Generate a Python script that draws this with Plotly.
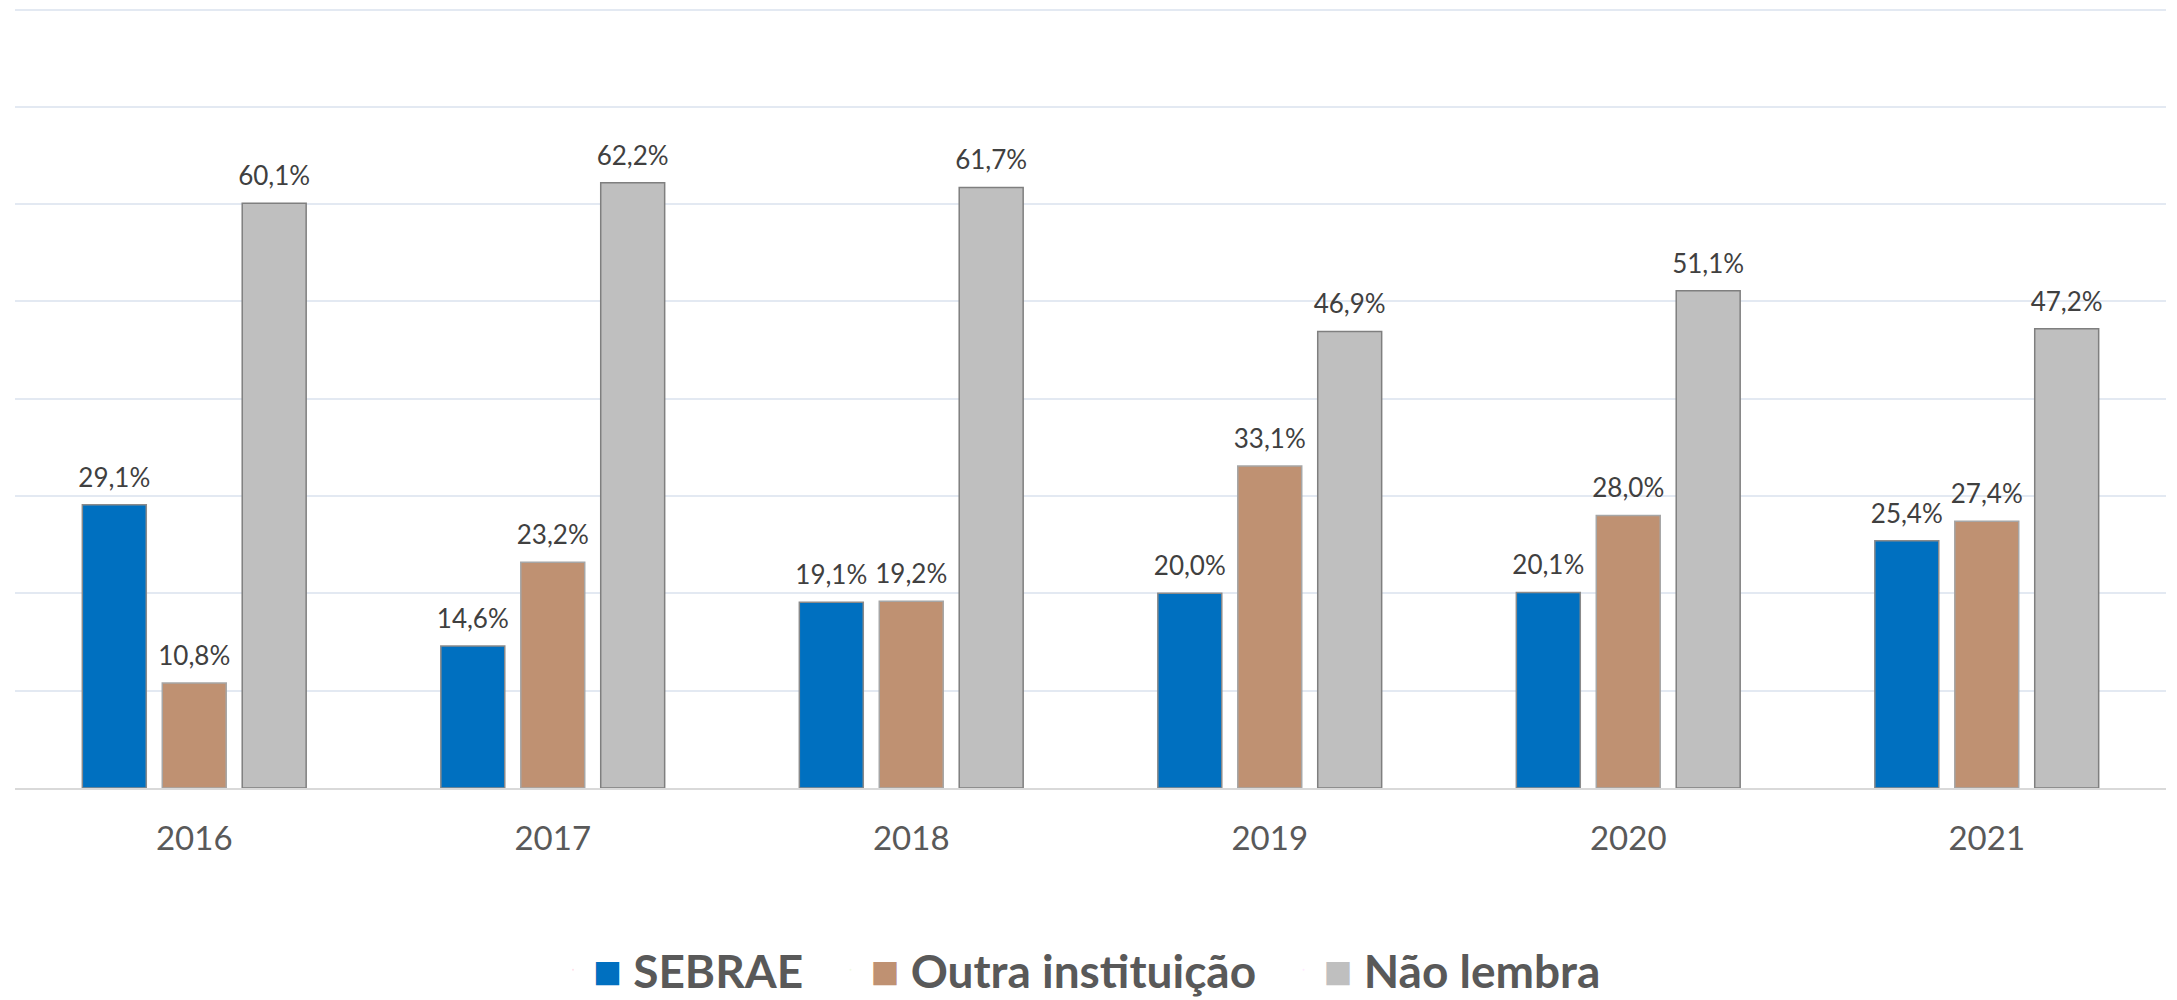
import plotly.graph_objects as go

years = ["2016", "2017", "2018", "2019", "2020", "2021"]
sebrae = [29.1, 14.6, 19.1, 20.0, 20.1, 25.4]
outra = [10.8, 23.2, 19.2, 33.1, 28.0, 27.4]
nao_lembra = [60.1, 62.2, 61.7, 46.9, 51.1, 47.2]

series_names = ["SEBRAE", "Outra instituição", "Não lembra"]
series_values = [sebrae, outra, nao_lembra]
colors = ["#0070C0", "#BF9172", "#BFBFBF"]
line_colors = ["#8A8A8A", "#A6A6A6", "#7F7F7F"]

FONT = "Lato, 'Open Sans', sans-serif"
GAP = 0.331

fig = go.Figure()
for name, vals, col, lc in zip(series_names, series_values, colors, line_colors):
    fig.add_trace(go.Bar(
        x=years, y=vals, name=name, offsetgroup=name,
        marker=dict(color=col, line=dict(color=lc, width=1.5)),
        showlegend=False, hoverinfo="skip",
    ))

# data labels, grouped the same way as the bars
for name, vals in zip(series_names, series_values):
    fig.add_trace(go.Scatter(
        x=years, y=vals, offsetgroup=name, mode="markers+text",
        marker=dict(size=17, color="rgba(0,0,0,0)"),
        texttemplate="%{y:.1f}%", textposition="top center",
        textfont=dict(family=FONT, size=26, color="#404040"),
        cliponaxis=False, showlegend=False, hoverinfo="skip",
    ))

for name, col in zip(series_names, colors):
    fig.add_trace(go.Scatter(
        x=[None], y=[None], mode="markers",
        marker=dict(opacity=0, size=1),
        name=f'<span style="color:{col};font-size:48px">■</span> {name}\u00a0\u00a0',
        showlegend=True, hoverinfo="skip",
    ))

fig.update_layout(
    width=2169, height=992,
    margin=dict(l=7, r=11, t=0, b=212, autoexpand=False),
    paper_bgcolor="white", plot_bgcolor="white",
    barmode="group", bargap=GAP, bargroupgap=0.2,
    scattermode="group", scattergap=GAP,
    separators=",.",
    font=dict(family=FONT, color="#595959"),
    legend=dict(
        orientation="h", x=0.5, xanchor="center", y=-0.233, yanchor="middle",
        font=dict(family=FONT, size=46, color="#595959", weight="bold"),
        itemwidth=30, bgcolor="rgba(0,0,0,0)",
    ),
    xaxis=dict(
        showline=True, linecolor="#D9D9D9", linewidth=2,
        ticks="", tickfont=dict(family=FONT, size=33, color="#595959"),
        ticklabelstandoff=20, showgrid=False, fixedrange=True,
    ),
    yaxis=dict(
        range=[0, 80.154], tickvals=[10, 20, 30, 40, 50, 60, 70, 80],
        showticklabels=False,
        showgrid=True, gridcolor="#E3E9F2", gridwidth=1.5,
        zeroline=False, fixedrange=True,
    ),
)

fig.write_html("out.html")
